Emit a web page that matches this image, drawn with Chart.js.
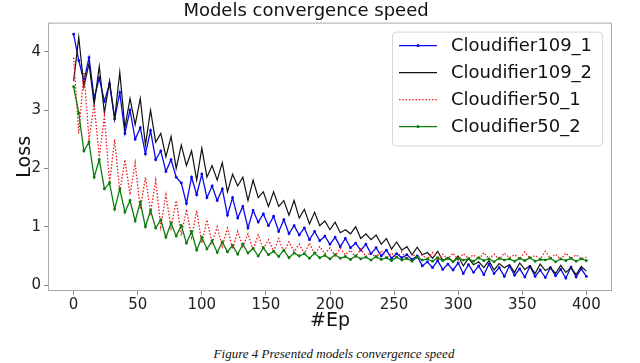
<!DOCTYPE html>
<html>
<head>
<meta charset="utf-8">
<title>Models convergence speed</title>
<script src="https://cdn.jsdelivr.net/npm/chart.js@4"></script>
<style>
  body { margin: 0; background: #fff; }
  #wrap { position: relative; width: 640px; height: 363px; }
  #caption {
    position: absolute; top: 346px; left: 28px; width: 612px;
    text-align: center; font: italic 13px "Liberation Serif", serif; color: #111;
  }
</style>
</head>
<body>
<div id="wrap">
  <canvas id="graphique" width="640" height="340"></canvas>
  <div id="caption">Figure 4 Presented models convergence speed</div>
</div>
<script>
const epochs = [0,4,8,12,16,20,24,28,32,36,40,44,48,52,56,60,64,68,72,76,80,84,88,92,96,100,
  104,108,112,116,120,124,128,132,136,140,144,148,152,156,160,164,168,172,176,180,184,188,192,196,200,
  204,208,212,216,220,224,228,232,236,240,244,248,252,256,260,264,268,272,276,280,284,288,292,296,300,
  304,308,312,316,320,324,328,332,336,340,344,348,352,356,360,364,368,372,376,380,384,388,392,396,400];

const cloud109_1 = [4.3,3.85,3.5,3.9,3.2,3.55,3.15,3.45,2.85,3.3,2.6,3.0,2.5,2.7,2.25,2.65,2.15,2.3,1.95,2.15,
  1.85,1.75,1.4,1.85,1.55,1.9,1.5,1.7,1.45,1.65,1.2,1.5,1.15,1.35,0.98,1.28,1.08,1.22,1.02,1.18,
  0.92,1.12,0.88,1.02,0.86,0.98,0.78,0.92,0.76,0.84,0.7,0.82,0.66,0.8,0.64,0.72,0.6,0.7,0.54,0.64,
  0.5,0.6,0.46,0.54,0.47,0.52,0.44,0.5,0.33,0.4,0.3,0.42,0.27,0.36,0.26,0.38,0.2,0.35,0.22,0.33,
  0.18,0.36,0.2,0.3,0.15,0.33,0.17,0.28,0.14,0.32,0.15,0.26,0.13,0.3,0.16,0.27,0.12,0.31,0.14,0.28,0.15];

const cloud109_2 = [3.5,4.25,3.4,3.8,3.1,3.75,2.95,3.5,2.85,3.65,2.7,3.2,2.75,3.2,2.4,3.0,2.45,2.6,2.2,2.55,
  2.0,2.4,2.05,2.3,1.8,2.35,1.85,2.05,1.8,2.1,1.6,1.9,1.7,1.85,1.45,1.8,1.5,1.6,1.35,1.6,
  1.35,1.45,1.2,1.45,1.15,1.3,1.05,1.25,1.02,1.1,0.95,1.08,0.9,0.95,0.88,1.0,0.8,0.88,0.78,0.86,
  0.7,0.8,0.62,0.74,0.6,0.66,0.52,0.65,0.52,0.56,0.46,0.58,0.42,0.48,0.4,0.5,0.33,0.46,0.35,0.4,
  0.3,0.42,0.26,0.37,0.3,0.35,0.22,0.38,0.27,0.33,0.2,0.36,0.25,0.3,0.2,0.34,0.22,0.3,0.18,0.32,0.24];

const cloud50_1 = [3.9,2.6,3.65,2.5,3.1,2.2,2.9,1.75,2.5,1.6,2.15,1.55,2.1,1.3,1.85,1.25,1.8,1.0,1.55,0.98,
  1.45,0.85,1.3,0.82,1.28,0.72,1.12,0.72,1.0,0.66,0.98,0.62,0.92,0.66,0.88,0.6,0.86,0.62,0.78,0.58,
  0.8,0.56,0.74,0.58,0.7,0.54,0.72,0.53,0.66,0.54,0.64,0.5,0.63,0.52,0.6,0.48,0.62,0.49,0.56,0.47,
  0.59,0.46,0.55,0.47,0.57,0.44,0.54,0.46,0.52,0.44,0.56,0.43,0.53,0.45,0.55,0.43,0.54,0.46,0.52,0.44,
  0.56,0.45,0.53,0.44,0.55,0.47,0.52,0.45,0.57,0.46,0.51,0.45,0.58,0.46,0.53,0.44,0.55,0.46,0.52,0.45,0.48];

const cloud50_2 = [3.4,2.95,2.3,2.45,1.85,2.15,1.65,1.75,1.3,1.65,1.25,1.45,1.1,1.42,1.0,1.28,0.98,1.12,0.82,1.06,
  0.84,1.02,0.72,0.92,0.6,0.82,0.62,0.76,0.56,0.74,0.57,0.68,0.53,0.7,0.55,0.63,0.5,0.64,0.52,0.58,
  0.49,0.6,0.47,0.55,0.5,0.54,0.46,0.55,0.47,0.51,0.45,0.52,0.46,0.49,0.44,0.5,0.45,0.48,0.43,0.49,
  0.44,0.47,0.42,0.48,0.43,0.46,0.41,0.48,0.43,0.45,0.41,0.47,0.42,0.46,0.4,0.46,0.43,0.45,0.41,0.47,
  0.42,0.45,0.4,0.46,0.43,0.45,0.41,0.46,0.42,0.47,0.41,0.44,0.43,0.46,0.4,0.45,0.42,0.46,0.41,0.45,0.42];

const xTicks = [0, 50, 100, 150, 200, 250, 300, 350, 400];
const yTicks = [0, 1, 2, 3, 4];

const police = 'DejaVu Sans';

function points(valeurs) {
    return valeurs.map((v, i) => ({ x: epochs[i], y: v }));
}

// matplotlib-style frame and legend box inside the plot
const cadreEtLegende = {
    id: 'cadreEtLegende',
    afterDatasetsDraw(chart) {
        const { ctx, chartArea: a } = chart;
        ctx.save();
        ctx.strokeStyle = '#a8a8a8';
        ctx.lineWidth = 1;
        ctx.strokeRect(a.left + 0.5, a.top + 0.5, a.width - 1, a.height - 1);

        const bw = 210, bh = 114;
        const bx = a.right - 10 - bw, by = a.top + 9;
        ctx.beginPath();
        if (ctx.roundRect) ctx.roundRect(bx + 0.5, by + 0.5, bw, bh, 4);
        else ctx.rect(bx + 0.5, by + 0.5, bw, bh);
        ctx.fillStyle = 'rgba(255,255,255,0.85)';
        ctx.fill();
        ctx.strokeStyle = '#d6d6d6';
        ctx.stroke();

        ctx.font = '18px "' + police + '"';
        ctx.textBaseline = 'middle';
        chart.data.datasets.forEach((ds, i) => {
            const y = by + 14 + 27 * i;
            ctx.beginPath();
            ctx.setLineDash(ds.borderDash || []);
            ctx.strokeStyle = ds.borderColor;
            ctx.lineWidth = ds.borderWidth;
            ctx.moveTo(bx + 7, y);
            ctx.lineTo(bx + 45, y);
            ctx.stroke();
            ctx.setLineDash([]);
            if (ds.pointRadius > 0) {
                ctx.beginPath();
                ctx.fillStyle = ds.borderColor;
                ctx.arc(bx + 26, y, 1.5, 0, Math.PI * 2);
                ctx.fill();
            }
            ctx.fillStyle = '#111';
            ctx.fillText(ds.label, bx + 59, y + 1);
        });
        ctx.restore();
    }
};

new Chart(document.getElementById('graphique'), {
    type: 'line',
    data: {
        datasets: [
            { label: 'Cloudifier109_1', data: points(cloud109_1), borderColor: '#0a0aee', backgroundColor: '#0a0aee',
              borderWidth: 1.3, pointRadius: 0.8, order: 4 },
            { label: 'Cloudifier109_2', data: points(cloud109_2), borderColor: '#111111', backgroundColor: '#111111',
              borderWidth: 1.2, pointRadius: 0, order: 3 },
            { label: 'Cloudifier50_1', data: points(cloud50_1), borderColor: '#f01818', backgroundColor: '#f01818',
              borderWidth: 1.3, borderDash: [1.5, 1.8], pointRadius: 0, order: 2 },
            { label: 'Cloudifier50_2', data: points(cloud50_2), borderColor: '#0b7d0b', backgroundColor: '#0b7d0b',
              borderWidth: 1.3, pointRadius: 0.8, order: 1 }
        ]
    },
    options: {
        responsive: false,
        animation: false,
        layout: { padding: { left: 0, right: 28, top: 0, bottom: 0 } },
        elements: { line: { tension: 0 }, point: { borderWidth: 0 } },
        plugins: {
            legend: { display: false },
            tooltip: { enabled: false },
            title: {
                display: true,
                text: 'Models convergence speed',
                color: '#111',
                font: { family: police, size: 18, weight: 'normal' },
                padding: { top: 1, bottom: 0 }
            }
        },
        scales: {
            x: {
                type: 'linear',
                min: -20,
                max: 420,
                afterBuildTicks: s => { s.ticks = xTicks.map(v => ({ value: v })); },
                afterFit: s => { s.height = 49; },
                border: { display: false },
                grid: { drawOnChartArea: false, tickLength: 4, color: '#888' },
                ticks: { color: '#222', padding: 1, maxRotation: 0, font: { family: police, size: 15 } },
                title: { display: true, text: '#Ep', color: '#111', font: { family: police, size: 19 },
                         padding: { top: 0, bottom: 8 } }
            },
            y: {
                min: -0.1,
                max: 4.5,
                afterBuildTicks: s => { s.ticks = yTicks.map(v => ({ value: v })); },
                afterFit: s => { s.width = 48; },
                border: { display: false },
                grid: { drawOnChartArea: false, tickLength: 4, color: '#888' },
                ticks: { color: '#222', padding: 3, font: { family: police, size: 15 } },
                title: { display: true, text: 'Loss', color: '#111', font: { family: police, size: 19 },
                         padding: { top: 14, bottom: 0 } }
            }
        }
    },
    plugins: [cadreEtLegende]
});
</script>
</body>
</html>
